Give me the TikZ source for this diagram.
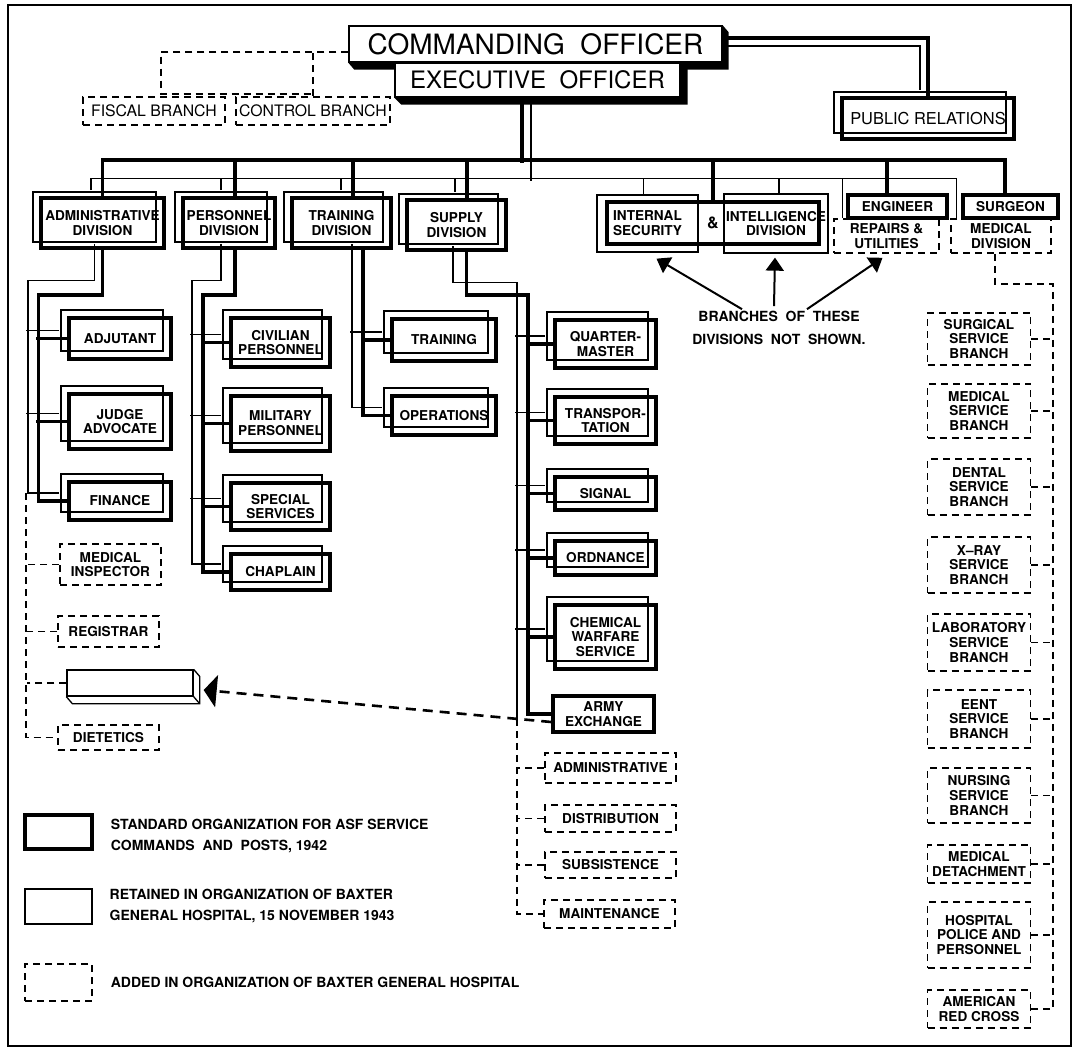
\documentclass[tikz,border=0pt]{standalone}
\usepackage{fontspec}
\setmainfont{TeX Gyre Heros}
\usepackage{tikz}
\usetikzlibrary{positioning,shapes,arrows.meta,shadows,calc}

\newcommand\bxf{\fontsize{6.8}{7.4}\selectfont\bfseries}
\newcommand\lgf{\fontsize{7}{10.5}\selectfont\bfseries}
\newcommand\rgf{\fontsize{7.9}{9}\selectfont}

\tikzstyle{st}=[%
      rectangle, draw=black, line width=1.8pt,
      inner sep=1pt, align=center, font=\bxf
]
\tikzstyle{rb}=[%
      rectangle, draw=black, line width=0.65pt,
      inner sep=1pt, align=center, font=\bxf
]
\tikzstyle{ad}=[%
      rectangle, draw=black, line width=0.8pt, dash pattern=on 3.5pt off 2.5pt,
      inner sep=1pt, align=center, font=\bxf
]
\tikzstyle{rt}=[copy shadow={shadow xshift=-4pt, shadow yshift=4pt, line width=0.65pt, fill=none}]
\tikzstyle{rtd}=[copy shadow={shadow xshift=-4pt, shadow yshift=3pt, line width=0.65pt, fill=none}]
\tikzstyle{top}=[rectangle, draw=black, line width=0.7pt, fill=white, inner sep=1pt]
\tikzstyle{stl}=[line width=1.8pt]
\tikzstyle{rtl}=[line width=0.65pt]
\tikzstyle{adl}=[line width=0.8pt, dash pattern=on 3.5pt off 2.5pt]
\tikzstyle{lnk}=[line width=1.3pt, dash pattern=on 5pt off 3.5pt, -{Triangle[length=6.5pt,width=16pt]}]
\tikzstyle{ptr}=[line width=1pt, -{Triangle[length=6.5pt,width=9pt]}]
\tikzstyle{rdv}=[shift={(-8,-6)}]
\tikzstyle{rsb}=[shift={(-8,-8)}]

\begin{document}
\begin{tikzpicture}[x=0.5pt, y=-0.5pt]
    \useasboundingbox (0,0) rectangle (1078,1051);
    \draw[line width=1.1pt] (8,5) rectangle (1071,1046);

    % head of the command
    \node[top, minimum width=186.5pt, minimum height=18pt, font=\fontsize{14}{16}\selectfont] (co) at (535.5,44) {COMMANDING\ \ OFFICER};
    \fill (co.south west) -- ++(6,7) -- ([shift={(6,7)}]co.south east) -- ([shift={(6,7)}]co.north east) -- (co.north east) -- (co.south east) -- cycle;
    \node[top, minimum width=142.5pt, minimum height=17pt, font=\fontsize{12}{14}\selectfont] (exec) at (537.5,80) {EXECUTIVE\ \ OFFICER};
    \fill (exec.south west) -- ++(7,7) -- ([shift={(7,7)}]exec.south east) -- ([shift={(7,7)}]exec.north east) -- (exec.north east) -- (exec.south east) -- cycle;

    \node[ad, minimum width=71pt, minimum height=14pt, font=\rgf] (fiscal) at (154,111) {FISCAL BRANCH};
    \node[ad, minimum width=77pt, minimum height=14pt, font=\rgf] (control) at (313,111) {CONTROL BRANCH};
    \draw[adl] ([yshift=-4pt]co.west) -| ([shift={(7,-2)}]fiscal.north) -| (control.north);
    \draw[adl] (control.north) -- ++(0,-45);

    \node[st, rtd, minimum width=86pt, minimum height=20.5pt, font=\fontsize{8.2}{9}\selectfont] (pr) at (928,118.5) {PUBLIC RELATIONS};
    \draw[stl] ([yshift=3pt]co.east) -| (pr.north);
    \draw[rtl] ([yshift=-1pt]co.east) -| ([shift={(-8,-6)}]pr.north);

    % divisions
    \node[st, rtd, minimum width=61.5pt, minimum height=25pt] (admin) at (102.5,223) {ADMINISTRATIVE\\DIVISION};
    \node[st, rtd, minimum width=46pt, minimum height=25pt] (pers) at (229,223) {PERSONNEL\\DIVISION};
    \node[st, rtd, minimum width=49.5pt, minimum height=25pt] (train) at (341.5,223) {TRAINING\\DIVISION};
    \node[st, rtd, minimum width=49.5pt, minimum height=25pt] (supply) at (456.5,225) {SUPPLY\\DIVISION};
    \node[st, minimum width=106pt, minimum height=21pt, font=\fontsize{8}{9}\selectfont\bfseries] (intsec) at (713,223) {\&};
    \node[rb, minimum width=50.5pt, minimum height=28.5pt] (isecr) at (647.5,223.5) {INTERNAL\\SECURITY};
    \node[rb, minimum width=52pt, minimum height=29.5pt] (intlr) at (776,223.5) {INTELLIGENCE\\DIVISION};
    \node[st, minimum width=49.5pt, minimum height=11.5pt] (eng) at (897.5,206.5) {ENGINEER};
    \node[ad, minimum width=52.5pt, minimum height=17pt] (repairs) at (886.5,236) {REPAIRS \&\\UTILITIES};
    \node[st, minimum width=47.5pt, minimum height=11.5pt] (surgeon) at (1010.5,206.5) {SURGEON};
    \node[ad, minimum width=50pt, minimum height=17pt] (meddiv) at (1001,236) {MEDICAL\\DIVISION};

    % main lines
    \draw[stl] (admin.north) -- ++(0,-36) -| ([xshift=-2.75pt]surgeon.north);
    \draw[rtl] ([shift={(-11.5,-6)}]admin.north) -- ++(0,-12) -| ([xshift=3pt]meddiv.north west);
    \draw[stl] ([xshift=-7.75pt]exec.south) -- ++(0,65);
    \draw[rtl] ([xshift=-3.25pt]exec.south) -- ++(0,83);
    \draw[stl] ([xshift=3pt]pers.north) -- ++(0,-36);
    \draw[rtl] ([rdv]pers.north) -- ++(0,-12);
    \draw[stl] ([xshift=5.75pt]train.north) -- ++(0,-36);
    \draw[rtl] ([shift={(-0.5,-6)}]train.north) -- ++(0,-12);
    \draw[stl] ([xshift=5.25pt]supply.north) -- ++(0,-38);
    \draw[rtl] ([shift={(-1.5,-6)}]supply.north) -- ++(0,-14);
    \draw[stl] (intsec.north) -- ++(0,-40);
    \draw[rtl] ([xshift=-2pt]isecr.north) -- ++(0,-15);
    \draw[rtl] ([xshift=1.5pt]intlr.north) -- ++(0,-14);
    \draw[stl] ([xshift=-5.25pt]eng.north) -- ++(0,-33);
    \draw[rtl] ([xshift=4.5pt]repairs.north west) -- ++(0,-39);

    \node[font=\fontsize{7}{11.5}\selectfont\bfseries, align=center] (note) at (779,328) {BRANCHES\ \ OF\ \ THESE\\DIVISIONS\ \ NOT\ \ SHOWN.};
    \draw[ptr] ($(note.north)+(-37,5)$) -- ($(isecr.south)+(9,6)$);
    \draw[ptr] ($(note.north)+(-5,2)$) -- ($(intlr.south)+(-1,4)$);
    \draw[ptr] ($(note.north)+(28,5)$) -- ($(repairs.south)+(-4,4)$);

    % administrative branches
    \node[st, rt, minimum width=51pt, minimum height=20.5pt] (adj) at (120,338.5) {ADJUTANT};
    \node[st, rt, minimum width=51pt, minimum height=27.5pt] (judge) at (120,421.5) {JUDGE\\ADVOCATE};
    \node[st, rt, minimum width=51pt, minimum height=19pt] (fin) at (120,501) {FINANCE};
    \node[ad, minimum width=50.5pt, minimum height=20.5pt] (medinsp) at (110.5,564.5) {MEDICAL\\INSPECTOR};
    \node[ad, minimum width=50.5pt, minimum height=15.5pt] (registrar) at (108.5,631.5) {REGISTRAR};
    \node[rb, minimum width=63pt, minimum height=13pt] (slab) at (130,683) {};
    \draw[rtl] (slab.south west) -- ++(6,7) -- ([shift={(6,7)}]slab.south east) -- ([shift={(6,7)}]slab.north east) -- (slab.north east)
               (slab.south east) -- ++(6,7);
    \node[ad, minimum width=50.5pt, minimum height=12.5pt] (diet) at (108.5,737.5) {DIETETICS};

    \draw[stl] (admin.south) -- ++(0,45) -- ++(-64,0) |- (fin.west);
    \draw[stl] (adj.west) -- ++(-31,0);
    \draw[stl] (judge.west) -- ++(-31,0);
    \draw[rtl] ([rdv]admin.south) -- ++(0,37) -- ++(-66.5,0) |- ([rsb]fin.west);
    \draw[rtl] ([rsb]adj.west) -- ++(-33,0);
    \draw[rtl] ([rsb]judge.west) -- ++(-33,0);
    \draw[adl] ([rsb]fin.west) ++(-33,0) |- (diet.west);
    \draw[adl] (medinsp.west) -- ++(-32.5,0);
    \draw[adl] (registrar.west) -- ++(-30,0);
    \draw[adl] (slab.west) -- ++(-39,0);

    % personnel branches
    \node[st, rt, minimum width=49.5pt, minimum height=24.5pt] (civ) at (280.5,342.5) {CIVILIAN\\PERSONNEL};
    \node[st, rt, minimum width=49.5pt, minimum height=27.5pt] (mil) at (280.5,423.5) {MILITARY\\PERSONNEL};
    \node[st, rt, minimum width=49.5pt, minimum height=23.5pt] (spec) at (280.5,506.5) {SPECIAL\\SERVICES};
    \node[st, rt, minimum width=49.5pt, minimum height=18pt] (chap) at (280.5,572) {CHAPLAIN};

    \draw[stl] ([xshift=3pt]pers.south) -- ++(0,45) -- ++(-32,0) |- (chap.west);
    \draw[stl] (civ.west) -- ++(-28,0);
    \draw[stl] (mil.west) -- ++(-28,0);
    \draw[stl] (spec.west) -- ++(-28,0);
    \draw[rtl] ([rdv]pers.south) -- ++(0,37) -- ++(-29,0) |- ([rsb]chap.west);
    \draw[rtl] ([rsb]civ.west) -- ++(-31,0);
    \draw[rtl] ([rsb]mil.west) -- ++(-31,0);
    \draw[rtl] ([rsb]spec.west) -- ++(-31,0);

    % training branches
    \node[st, rt, minimum width=52pt, minimum height=21pt] (trng) at (444,340) {TRAINING};
    \node[st, rt, minimum width=52pt, minimum height=19.5pt] (ops) at (444,415.5) {OPERATIONS};

    \draw[stl] ([xshift=10.75pt]train.south) |- (ops.west);
    \draw[stl] (trng.west) -- ++(-29,0);
    \draw[rtl] ([shift={(10.5,-6)}]train.south) |- ([rsb]ops.west);
    \draw[rtl] ([rsb]trng.west) -- ++(-32,0);

    % supply branches
    \node[st, rt, minimum width=50.5pt, minimum height=24pt] (qm) at (605.5,344) {QUARTER-\\MASTER};
    \node[st, rt, minimum width=50.5pt, minimum height=23.5pt] (transp) at (605.5,420.5) {TRANSPOR-\\TATION};
    \node[st, rt, minimum width=50.5pt, minimum height=16.5pt] (signal) at (605.5,493.5) {SIGNAL};
    \node[st, rt, minimum width=50.5pt, minimum height=17pt] (ord) at (605.5,558) {ORDNANCE};
    \node[st, rt, minimum width=50.5pt, minimum height=32pt] (chem) at (605.5,637) {CHEMICAL\\WARFARE\\SERVICE};
    \node[st, minimum width=50.5pt, minimum height=18pt] (armyx) at (603.5,714) {ARMY\\EXCHANGE};
    \node[ad, minimum width=65.5pt, minimum height=15pt] (sadm) at (610.5,768) {ADMINISTRATIVE};
    \node[ad, minimum width=65.5pt, minimum height=13.5pt] (sdist) at (610.5,818.5) {DISTRIBUTION};
    \node[ad, minimum width=65.5pt, minimum height=13pt] (ssubs) at (610.5,865) {SUBSISTENCE};
    \node[ad, minimum width=65.5pt, minimum height=14pt] (smaint) at (609.5,914) {MAINTENANCE};

    \draw[stl] ([xshift=5pt]supply.south) -- ++(0,43) -- ++(61.5,0) |- (armyx.west);
    \draw[stl] (qm.west) -- ++(-27,0);
    \draw[stl] (transp.west) -- ++(-27,0);
    \draw[stl] (signal.west) -- ++(-27,0);
    \draw[stl] (ord.west) -- ++(-27,0);
    \draw[stl] (chem.west) -- ++(-27,0);
    \draw[rtl] ([shift={(-3.5,-6)}]supply.south) -- ++(0,37) -- ++(64,0) -- ++(0,436) coordinate (stail);
    \draw[rtl] ([rsb]qm.west) -- ++(-30,0);
    \draw[rtl] ([rsb]transp.west) -- ++(-30,0);
    \draw[rtl] ([rsb]signal.west) -- ++(-30,0);
    \draw[rtl] ([rsb]ord.west) -- ++(-30,0);
    \draw[rtl] ([rsb]chem.west) -- ++(-30,0);
    \draw[adl] (stail) |- (smaint.west);
    \draw[adl] (sadm.west) -- ++(-28,0);
    \draw[adl] (sdist.west) -- ++(-28,0);
    \draw[adl] (ssubs.west) -- ++(-28,0);

    \draw[lnk] ([yshift=-4pt]armyx.west) -- ([shift={(10,7)}]slab.east);

    % medical branches
    \node[ad, minimum width=51.5pt, minimum height=26pt] (surg) at (979,339) {SURGICAL\\SERVICE\\BRANCH};
    \node[ad, minimum width=51.5pt, minimum height=27pt] (medsvc) at (979,411) {MEDICAL\\SERVICE\\BRANCH};
    \node[ad, minimum width=51.5pt, minimum height=28pt] (dental) at (979,487) {DENTAL\\SERVICE\\BRANCH};
    \node[ad, minimum width=51.5pt, minimum height=28pt] (xray) at (979,565) {X--RAY\\SERVICE\\BRANCH};
    \node[ad, minimum width=51.5pt, minimum height=28.5pt] (lab) at (979,642.5) {LABORATORY\\SERVICE\\BRANCH};
    \node[ad, minimum width=51.5pt, minimum height=29pt] (eent) at (979,719) {EENT\\SERVICE\\BRANCH};
    \node[ad, minimum width=51.5pt, minimum height=27.5pt] (nursing) at (979,795.5) {NURSING\\SERVICE\\BRANCH};
    \node[ad, minimum width=51.5pt, minimum height=19pt] (meddet) at (979,864) {MEDICAL\\DETACHMENT};
    \node[ad, minimum width=51.5pt, minimum height=33pt] (hosppol) at (979,935) {HOSPITAL\\POLICE AND\\PERSONNEL};
    \node[ad, minimum width=51.5pt, minimum height=19pt] (redcross) at (979,1009) {AMERICAN\\RED CROSS};

    \draw[adl] ([xshift=-3pt]meddiv.south) -- ++(0,30) -- ++(58,0) |- (redcross.east);
    \draw[adl] (surg.east) -- ++(22.5,0);
    \draw[adl] (medsvc.east) -- ++(22.5,0);
    \draw[adl] (dental.east) -- ++(22.5,0);
    \draw[adl] (xray.east) -- ++(22.5,0);
    \draw[adl] (lab.east) -- ++(22.5,0);
    \draw[adl] (eent.east) -- ++(22.5,0);
    \draw[adl] (nursing.east) -- ++(22.5,0);
    \draw[adl] (meddet.east) -- ++(22.5,0);
    \draw[adl] (hosppol.east) -- ++(22.5,0);

    % legend
    \node[st, minimum width=33.5pt, minimum height=17pt] (lgst) at (58.5,832) {};
    \node[right=5pt of lgst, yshift=-2pt, font=\lgf, align=left] (lgstt) {STANDARD\ ORGANIZATION\ FOR\ ASF\ SERVICE\\COMMANDS\ \ AND\ \ POSTS, 1942};
    \node[rb, minimum width=33.5pt, minimum height=17.5pt] (lgrt) at (58.5,906.5) {};
    \node[right=5pt of lgrt, font=\lgf, align=left] (lgrtt) {RETAINED\ IN\ ORGANIZATION\ OF\ BAXTER\\GENERAL\ HOSPITAL, 15 NOVEMBER 1943};
    \node[ad, minimum width=33.5pt, minimum height=18.5pt] (lgad) at (58.5,982.5) {};
    \node[right=5.5pt of lgad, font=\lgf] (lgadt) {ADDED\ IN\ ORGANIZATION\ OF\ BAXTER\ GENERAL\ HOSPITAL};
\end{tikzpicture}
\end{document}
